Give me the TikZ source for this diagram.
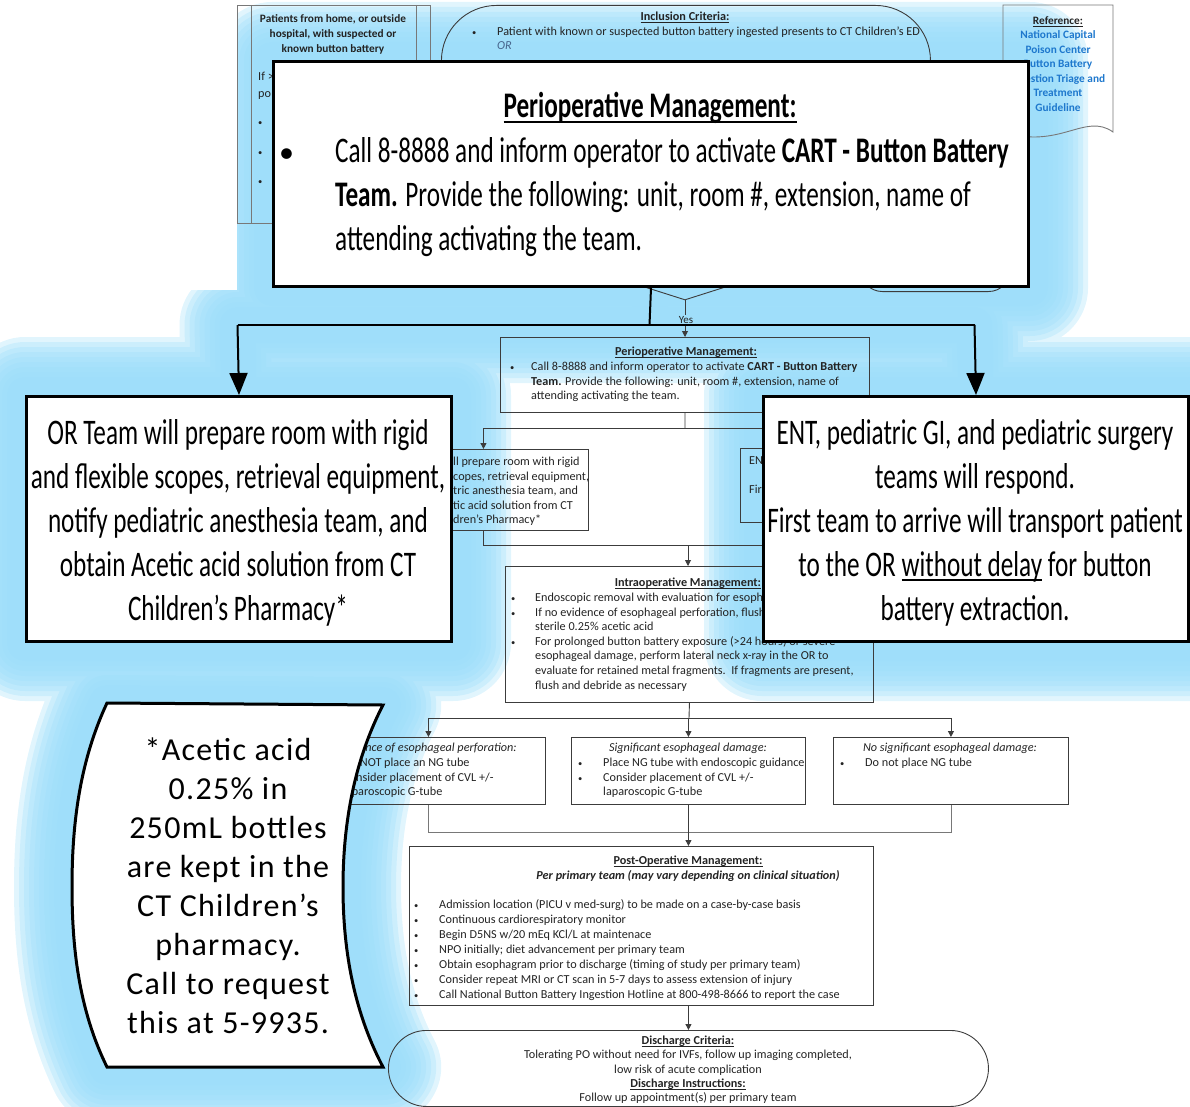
\documentclass[tikz,border=0pt]{standalone}
\usepackage{fontspec}
\setmainfont{Carlito}
\newfontfamily\condfont[FakeStretch=0.70]{Carlito}
\newfontfamily\spacedfont[LetterSpace=4]{Carlito}
\usetikzlibrary{arrows.meta,shapes.geometric}
\pgfdeclarelayer{glowlayer}
\pgfsetlayers{glowlayer,main}

\definecolor{glowc}{RGB}{155,221,250}
\definecolor{inkc}{RGB}{35,35,35}
\definecolor{edgec}{RGB}{60,60,60}
\definecolor{softc}{RGB}{120,120,120}
\definecolor{refblue}{RGB}{30,120,205}
\definecolor{orblue}{RGB}{70,100,140}

% thick underline for headings
\newcommand{\uln}[1]{\setbox0=\hbox{#1}\rlap{\vrule height -0.09em depth 0.14em width \wd0}\box0\relax}
% a column of text lines: name, x, first baseline, step, style, lines
\newcommand{\stack}[6]{\foreach \sline [count=\sidx from 0] in {#6}{\node[#5] (#1\sidx) at ({#2},{#3+#4*\sidx}) {\sline};}}
% outline of the wavy note
\def\scrollpath{(107,703) -- (383,705) .. controls (352,765) and (343,830) .. (343,887) .. controls (343,945) and (352,1008) .. (383,1067) -- (107,1067) .. controls (78,1008) and (72,945) .. (72,887) .. controls (72,830) and (78,765) .. (107,703) -- cycle}

\begin{document}
\begin{tikzpicture}[x=1pt,y=-1pt,
  fbox/.style={draw=edgec, line width=0.9pt, inner sep=0pt},
  fline/.style={draw=edgec, line width=0.9pt},
  farrow/.style={fline, -{Triangle[length=6pt,width=6pt]}},
  callbox/.style={draw=black, line width=3pt, fill=white, inner sep=0pt},
  bigline/.style={draw=black, line width=2pt},
  bigarrow/.style={bigline, -{Triangle[length=22pt,width=18pt]}},
  ctr/.style={inner sep=0pt, anchor=base},
  lft/.style={inner sep=0pt, anchor=base west},
  sm/.style={font=\fontsize{12.2}{14}\selectfont, text=inkc},
  smb/.style={font=\fontsize{12.2}{14}\selectfont\bfseries, text=inkc},
  bul/.style={lft, font=\fontsize{8.5}{10}\selectfont, text=inkc},
  bigf/.style={font=\condfont\fontsize{36}{44}\selectfont},
  scrollf/.style={font=\spacedfont\fontsize{32}{39}\selectfont}]
\useasboundingbox (0,0) rectangle (1190,1107);

% ---------------- underlying flowchart ----------------
% entry box (predefined process)
\node[fbox, draw=softc, anchor=north west, minimum width=193pt, minimum height=218pt] (entry) at (237,5) {};
\draw[fline, draw=softc] ([xshift=14pt]entry.north west) -- ([xshift=14pt]entry.south west);
\draw[fline, draw=softc] ([xshift=-14pt]entry.north east) -- ([xshift=-14pt]entry.south east);
\stack{ent}{333}{22.5}{15}{ctr, smb, font=\fontsize{11.3}{13}\selectfont\bfseries}{{Patients from home, or outside},{hospital, with suspected or},{known button battery}}
\node[lft, sm] (entIf) at (258,80.5) {If >};
\node[lft, sm] (entPo) at (258,97.5) {po};
\foreach \yy [count=\ii] in {125.5,155.5,184.5} \node[bul] (entB\ii) at (258,\yy) {•};

% inclusion criteria terminal
\node[fbox, rounded corners=55pt, anchor=north west, minimum width=489pt, minimum height=230pt] (incl) at (441,5) {};
\node[ctr, sm] (inclT) at (685,20.5) {\uln{\textbf{Inclusion Criteria:}}};
\node[bul] (inclB) at (472,35.5) {•};
\node[lft, sm] (incl1) at (497,35.5) {Patient with known or suspected button battery ingested presents to CT Children’s ED};
\node[lft, sm, text=orblue] (incl2) at (497,50) {\itshape OR};

% reference document
\draw[fline, draw=softc] (1003,5) -- (1113,5) -- (1113,132) .. controls (1085,112) and (1060,150) .. (1003,132) -- cycle;
\node[ctr, smb, font=\fontsize{11.3}{13}\selectfont\bfseries] (refT) at (1058,24.5) {\uln{Reference:}};
\stack{ref}{1058}{38.5}{14.6}{ctr, smb, font=\fontsize{11.3}{13}\selectfont\bfseries, text=refblue}{National Capital, Poison Center, Button Battery, Ingestion Triage and, Treatment, Guideline}

% decision and side terminal
\node[fbox, diamond, minimum width=440pt, minimum height=140pt] (dec) at (685,230) {};
\node[fbox, rounded corners=22pt, anchor=south west, minimum width=150pt, minimum height=80pt] (excl) at (860,292) {};
\node[sm, inner sep=1.5pt, font=\fontsize{11}{12}\selectfont] (yes) at (686,320) {Yes};
\draw[fline] (dec.south) -- (dec.south |- yes.north);

% perioperative management
\node[fbox, anchor=north west, minimum width=369pt, minimum height=75pt] (periSm) at (500,337) {};
\draw[farrow] (dec.south |- yes.south) -- (dec.south |- periSm.north);
\node[ctr, sm] (psT) at (686,355.5) {\uln{\textbf{Perioperative Management:}}};
\node[bul] (psB) at (510,370.5) {•};
\stack{ps}{531}{370.5}{14.5}{lft, sm}{{Call 8-8888 and inform operator to activate \textbf{CART - Button Battery}},{\textbf{Team.} Provide the following: unit, room \#, extension, name of},{attending activating the team.}}

% two parallel responses
\coordinate (jA) at (685,428);
\draw[fline] (periSm.south) -- (jA);
\node[fbox, anchor=north west, minimum width=210pt, minimum height=81pt] (orSm) at (378,449) {};
\node[fbox, anchor=north west, minimum width=300pt, minimum height=74pt] (entSm) at (740,448) {};
\draw[farrow] (jA) -| (orSm.north);
\draw[farrow] (jA) -| (entSm.north);
\stack{os}{453}{465.5}{14.5}{lft, sm}{{ll prepare room with rigid},{copes, retrieval equipment,},{tric anesthesia team, and},{tic acid solution from CT},{dren’s Pharmacy*}}
\node[lft, sm] (es1) at (749,464.5) {EN};
\node[lft, sm] (es2) at (749,493.5) {Firs};

% intraoperative management
\coordinate (jB) at (688,545);
\draw[fline] (orSm.south) |- (jB);
\draw[fline] (entSm.south) |- (jB);
\node[fbox, anchor=north west, minimum width=368pt, minimum height=136pt] (intra) at (505,566) {};
\draw[farrow] (jB) -- (jB |- intra.north);
\node[ctr, sm] (inT) at (688,586.5) {\uln{\textbf{Intraoperative Management:}}};
\foreach \yy [count=\ii] in {601.5,616.1,645.3} \node[bul] (inB\ii) at (511,\yy) {•};
\stack{in}{535}{601.5}{14.6}{lft, sm}{{Endoscopic removal with evaluation for esophageal injury},{If no evidence of esophageal perforation, flush with},{sterile 0.25\% acetic acid},{For prolonged button battery exposure (>24 hours) or severe},{esophageal damage, perform lateral neck x-ray in the OR to},{evaluate for retained metal fragments.\ \ If fragments are present,},{flush and debride as necessary}}

% three findings
\coordinate (jC) at (689,718);
\draw[fline] (intra.south) -- (jC);
\node[fbox, anchor=north west, minimum width=234pt, minimum height=67pt] (evA) at (311,737) {};
\node[fbox, anchor=north west, minimum width=234pt, minimum height=67pt] (evB) at (571,737) {};
\node[fbox, anchor=north west, minimum width=235pt, minimum height=67pt] (evC) at (833,737) {};
\draw[farrow] (jC) -| (evA.north);
\draw[farrow] (jC) -| (evB.north);
\draw[farrow] (jC) -| (evC.north);
\node[ctr, sm] (eaT) at (428,751.5) {\itshape Evidence of esophageal perforation:};
\foreach \yy [count=\ii] in {766.5,781} \node[bul] (eaB\ii) at (318,\yy) {•};
\stack{ea}{343}{766.5}{14.5}{lft, sm}{{Do NOT place an NG tube},{Consider placement of CVL +/-},{laparoscopic G-tube}}
\node[ctr, sm] (ebT) at (688,751.5) {\itshape Significant esophageal damage:};
\foreach \yy [count=\ii] in {766.5,781} \node[bul] (ebB\ii) at (578,\yy) {•};
\stack{eb}{603}{766.5}{14.5}{lft, sm}{{Place NG tube with endoscopic guidance},{Consider placement of CVL +/-},{laparoscopic G-tube}}
\node[ctr, sm] (ecT) at (950,751.5) {\itshape No significant esophageal damage:};
\node[bul] (ecB) at (840,766.5) {•};
\node[lft, sm] (ec0) at (865,766.5) {Do not place NG tube};

% post-operative management
\coordinate (jD) at (688,832);
\draw[fline, draw=softc] (evA.south) |- (jD);
\draw[fline, draw=softc] (evC.south) |- (jD);
\node[fbox, anchor=north west, minimum width=464pt, minimum height=159pt] (post) at (409,846) {};
\draw[farrow] (evB.south) -- (evB.south |- post.north);
\node[ctr, sm] (poT) at (688,864.5) {\uln{\textbf{Post-Operative Management:}}};
\node[ctr, sm] (poS) at (688,879.5) {\bfseries\itshape Per primary team (may vary depending on clinical situation)};
\foreach \ii in {0,...,6} \node[bul] (poB\ii) at (414,{908.5+15*\ii}) {•};
\stack{po}{439}{908.5}{15}{lft, sm}{{Admission location (PICU v med-surg) to be made on a case-by-case basis},{Continuous cardiorespiratory monitor},{Begin D5NS w/20 mEq KCl/L at maintenace},{NPO initially; diet advancement per primary team},{Obtain esophagram prior to discharge (timing of study per primary team)},{Consider repeat MRI or CT scan in 5-7 days to assess extension of injury},{Call National Button Battery Ingestion Hotline at 800-498-8666 to report the case}}

% discharge terminal
\node[fbox, rounded corners=38pt, anchor=north west, minimum width=600pt, minimum height=76pt] (disc) at (388,1030) {};
\draw[farrow] (disc.north |- post.south) -- (disc.north);
\stack{dc}{688}{1044.5}{14.3}{ctr, sm}{{\uln{\textbf{Discharge Criteria:}}},{Tolerating PO without need for IVFs, follow up imaging completed,},{low risk of acute complication},{\uln{\textbf{Discharge Instructions:}}},{Follow up appointment(s) per primary team}}

% ---------------- enlarged callouts ----------------
\node[callbox, anchor=north west, minimum width=755pt, minimum height=225pt] (periBig) at (272,60) {};
\node[ctr, bigf] (pbT) at (650,118) {\uln{\textbf{Perioperative Management:}}};
\node[lft, font=\fontsize{30}{36}\selectfont] (pbB) at (279,163) {•};
\stack{pb}{335}{163}{44}{lft, bigf}{{Call 8-8888 and inform operator to activate \textbf{CART - Button Battery}},{\textbf{Team.} Provide the following: unit, room \#, extension, name of},{attending activating the team.}}

\coordinate (jM) at (649.5,325);
\coordinate (jL) at (237.5,325);
\coordinate (jR) at (974.5,325);
\node[callbox, anchor=north west, minimum width=425pt, minimum height=245pt] (orBig) at (25,395) {};
\node[callbox, anchor=north west, minimum width=425pt, minimum height=245pt] (entBig) at (762,395) {};
\draw[bigline] (periBig.south) -- (jM);
\draw[bigline] (jL) -- (jR);
\draw[bigarrow] (jL) -- (orBig.north);
\draw[bigarrow] (jR) -- (entBig.north);
\stack{ob}{238}{444}{44}{ctr, bigf}{{OR Team will prepare room with rigid},{and flexible scopes, retrieval equipment,},{notify pediatric anesthesia team, and},{obtain Acetic acid solution from CT},{Children’s Pharmacy*}}
\stack{eb}{975}{444}{44}{ctr, bigf}{{ENT, pediatric GI, and pediatric surgery},{teams will respond.},{First team to arrive will transport patient},{to the OR \uln{without delay} for button},{battery extraction.}}

\draw[callbox] \scrollpath;
\stack{sc}{228}{760}{39}{ctr, scrollf}{{*Acetic acid},{0.25\% in},{250mL bottles},{are kept in the},{CT Children’s},{pharmacy.},{Call to request},{this at 5-9935.}}

% ---------------- soft blue glow behind the callouts ----------------
\begin{pgfonlayer}{glowlayer}
\begin{scope}
\clip (237,-20) -- (1210,-20) -- (1210,1120) -- (-20,1120) -- (-20,290) -- (237,290) -- cycle;
\foreach \gw in {18,23,...,58} {
  \draw[glowc, opacity=0.3, line width=\gw*2pt, line join=round, line cap=round]
    (periBig.north west) rectangle (periBig.south east)
    (periBig.south) -- (jM) (jL) -- (jR) (jL) -- (orBig.north) (jR) -- (entBig.north)
    (orBig.north west) rectangle (orBig.south east)
    (entBig.north west) rectangle (entBig.south east)
    \scrollpath;
}
\end{scope}
\end{pgfonlayer}
\end{tikzpicture}
\end{document}
